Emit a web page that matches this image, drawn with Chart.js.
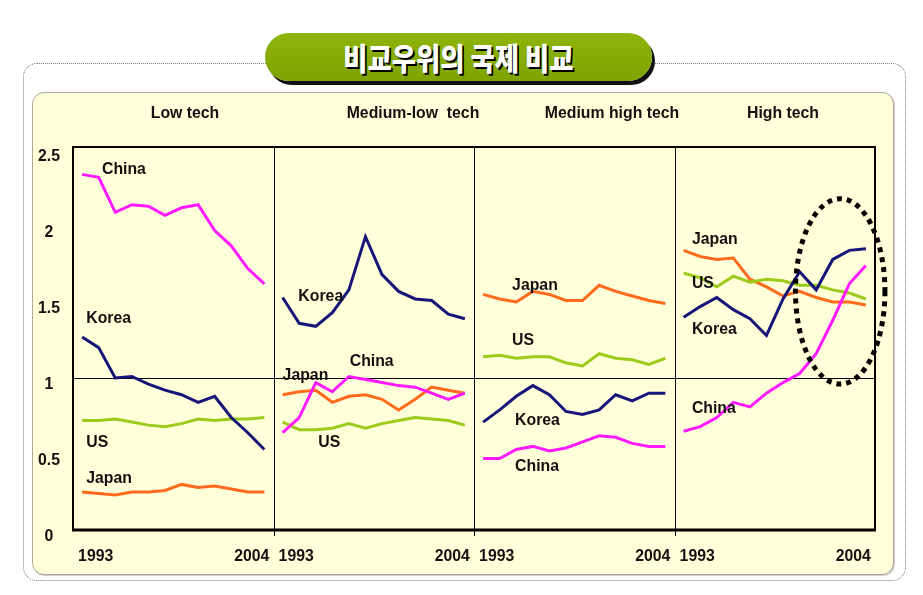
<!DOCTYPE html>
<html>
<head>
<meta charset="utf-8">
<script src="https://cdn.jsdelivr.net/npm/chart.js@4.4.0/dist/chart.umd.min.js"></script>
<style>
  body { margin: 0; background: #fff; width: 923px; height: 595px; overflow: hidden; }
  #outer { position: absolute; left: 23px; top: 63px; width: 881px; height: 516px;
           border: 1px dotted #777; border-radius: 14px; }
  #panel { position: absolute; left: 32px; top: 92px; width: 860px; height: 481px;
           background: #ffffd9; border: 1.5px solid #a9a99c; border-radius: 12px;
           box-shadow: 1px 1px 1px #ccc; }
  #pill { position: absolute; left: 265px; top: 33px; width: 387px; height: 48px;
          background: linear-gradient(#8fb40a, #7fa300); border-radius: 24px;
          box-shadow: 3px 4px 0 #111; text-align: center; }
  #pill span { display: inline-block; color: #fff; font-family: "Noto Sans CJK KR", sans-serif;
               font-weight: 900; font-size: 31px; line-height: 48px; letter-spacing: 0;
               transform: scaleX(0.85); text-shadow: 2px 2px 0 #000; }
  #mycanvas { position: absolute; left: 0; top: 0; }
</style>
</head>
<body>
<div id="outer"></div>
<div id="panel"></div>
<div id="pill"><span>비교우위의 국제 비교</span></div>
<canvas id="mycanvas" width="923" height="595"></canvas>
<script>
//-------------------------
// data (1993 .. 2004, one value per year)
//-------------------------
var years = ['1993','1994','1995','1996','1997','1998','1999','2000','2001','2002','2003','2004'];
var panelTitles = ['Low tech', 'Medium-low  tech', 'Medium high tech', 'High tech'];
var countries = ['China', 'Korea', 'US', 'Japan'];
var yTicks = [0, 0.5, 1, 1.5, 2, 2.5];

// Low tech
var lowChina = [2.34, 2.32, 2.09, 2.14, 2.13, 2.07, 2.12, 2.14, 1.97, 1.87, 1.72, 1.62];
var lowKorea = [1.27, 1.20, 1.00, 1.01, 0.96, 0.92, 0.89, 0.84, 0.88, 0.74, 0.64, 0.53];
var lowUS    = [0.72, 0.72, 0.73, 0.71, 0.69, 0.68, 0.70, 0.73, 0.72, 0.73, 0.73, 0.74];
var lowJapan = [0.25, 0.24, 0.23, 0.25, 0.25, 0.26, 0.30, 0.28, 0.29, 0.27, 0.25, 0.25];

// Medium-low tech
var mlChina = [0.64, 0.74, 0.97, 0.91, 1.01, 0.99, 0.97, 0.95, 0.94, 0.90, 0.86, 0.90];
var mlKorea = [1.53, 1.36, 1.34, 1.43, 1.58, 1.93, 1.68, 1.57, 1.52, 1.51, 1.42, 1.39];
var mlUS    = [0.71, 0.66, 0.66, 0.67, 0.70, 0.67, 0.70, 0.72, 0.74, 0.73, 0.72, 0.69];
var mlJapan = [0.89, 0.91, 0.92, 0.84, 0.88, 0.89, 0.86, 0.79, 0.86, 0.94, 0.92, 0.90];

// Medium high tech
var mhChina = [0.47, 0.47, 0.53, 0.55, 0.52, 0.54, 0.58, 0.62, 0.61, 0.57, 0.55, 0.55];
var mhKorea = [0.71, 0.79, 0.88, 0.95, 0.89, 0.78, 0.76, 0.79, 0.89, 0.85, 0.90, 0.90];
var mhUS    = [1.14, 1.15, 1.13, 1.14, 1.14, 1.10, 1.08, 1.16, 1.13, 1.12, 1.09, 1.13];
var mhJapan = [1.55, 1.52, 1.50, 1.57, 1.55, 1.51, 1.51, 1.61, 1.57, 1.54, 1.51, 1.49];

// High tech
var hiChina = [0.65, 0.68, 0.74, 0.84, 0.81, 0.90, 0.97, 1.03, 1.16, 1.38, 1.62, 1.74];
var hiKorea = [1.40, 1.47, 1.53, 1.45, 1.39, 1.28, 1.52, 1.70, 1.58, 1.78, 1.84, 1.85];
var hiUS    = [1.69, 1.66, 1.60, 1.67, 1.63, 1.65, 1.64, 1.61, 1.61, 1.58, 1.56, 1.52];
var hiJapan = [1.84, 1.80, 1.78, 1.79, 1.65, 1.60, 1.54, 1.57, 1.53, 1.50, 1.50, 1.48];

//-------------------------
// chart setup
//-------------------------
var seriesByPanel = [
  [lowChina, lowKorea, lowUS, lowJapan],
  [mlChina, mlKorea, mlUS, mlJapan],
  [mhChina, mhKorea, mhUS, mhJapan],
  [hiChina, hiKorea, hiUS, hiJapan]
];
var colors = { China: '#ff1aff', Korea: '#15157a', US: '#9ccb1c', Japan: '#ff6a1c' };
var PANEL_W = 12.1;   // x units per panel (12 years + margins)
var EDGE = 0.55;      // gap between panel edge and first year

// series name labels placed in data coords: [panel, year index, value, text]
var nameLabels = [
  [0, 1.2, 2.37, 'China'], [0, 0.25, 1.39, 'Korea'], [0, 0.25, 0.58, 'US'], [0, 0.25, 0.34, 'Japan'],
  [1, 0.95, 1.54, 'Korea'], [1, 0.0, 1.02, 'Japan'], [1, 4.05, 1.11, 'China'], [1, 2.15, 0.58, 'US'],
  [2, 1.75, 1.61, 'Japan'], [2, 1.75, 1.25, 'US'], [2, 1.93, 0.72, 'Korea'], [2, 1.93, 0.42, 'China'],
  [3, 0.5, 1.91, 'Japan'], [3, 0.5, 1.62, 'US'], [3, 0.5, 1.32, 'Korea'], [3, 0.5, 0.80, 'China']
];
var titleCenters = [185, 413, 612, 783];

var datasets = [];
for (var p = 0; p < seriesByPanel.length; p++) {
  for (var c = 0; c < countries.length; c++) {
    datasets.push({
      label: countries[c],
      data: seriesByPanel[p][c].map(function(v, i) { return { x: p * PANEL_W + i, y: v }; }),
      borderColor: colors[countries[c]],
      borderWidth: 3,
      pointRadius: 0,
      tension: 0
    });
  }
}

var FONT = 'bold 17px "Liberation Sans", Arial, sans-serif';
var SQUEEZE = 0.93;   // the original text is a bit narrow

// draw text squeezed horizontally, align = left/center/right
function squeezedText(ctx, text, x, y, align) {
  var w = ctx.measureText(text).width * SQUEEZE;
  var left = align === 'center' ? x - w / 2 : (align === 'right' ? x - w : x);
  ctx.save();
  ctx.textAlign = 'left';
  ctx.translate(left, y);
  ctx.scale(SQUEEZE, 1);
  ctx.fillText(text, 0, 0);
  ctx.restore();
}

var panelDecor = {
  id: 'panelDecor',
  beforeDatasetsDraw: function(chart) {
    var ctx = chart.ctx, a = chart.chartArea, xs = chart.scales.x, ys = chart.scales.y;
    ctx.save();
    ctx.strokeStyle = '#000';
    ctx.lineWidth = 1;
    // reference line at 1
    var y1 = Math.round(ys.getPixelForValue(1)) + 0.5;
    ctx.beginPath(); ctx.moveTo(a.left, y1); ctx.lineTo(a.right, y1); ctx.stroke();
    // panel dividers
    for (var p = 1; p < 4; p++) {
      var px = Math.round(xs.getPixelForValue(p * PANEL_W - EDGE)) + 0.5;
      ctx.beginPath(); ctx.moveTo(px, a.top); ctx.lineTo(px, a.bottom + 6); ctx.stroke();
    }
    ctx.restore();
  },
  afterDatasetsDraw: function(chart) {
    var ctx = chart.ctx, a = chart.chartArea, xs = chart.scales.x, ys = chart.scales.y;
    ctx.save();
    // frame
    ctx.strokeStyle = '#000';
    ctx.lineWidth = 2;
    ctx.strokeRect(a.left, a.top, a.right - a.left, a.bottom - a.top);
    ctx.lineWidth = 3;
    ctx.beginPath(); ctx.moveTo(a.left - 1, a.bottom); ctx.lineTo(a.right + 1, a.bottom); ctx.stroke();

    ctx.fillStyle = '#111';
    ctx.font = FONT;
    ctx.textBaseline = 'middle';

    // y tick labels
    yTicks.forEach(function(t) {
      squeezedText(ctx, String(t), 49, ys.getPixelForValue(t) + 6, 'center');
    });

    // panel titles
    panelTitles.forEach(function(t, p) {
      squeezedText(ctx, t, titleCenters[p], 113, 'center');
    });

    // first / last year under each panel
    for (var p = 0; p < 4; p++) {
      squeezedText(ctx, years[0], xs.getPixelForValue(p * PANEL_W) - 4, 556, 'left');
      squeezedText(ctx, years[years.length - 1], xs.getPixelForValue(p * PANEL_W + years.length - 1) + 5, 556, 'right');
    }

    // series names
    nameLabels.forEach(function(l) {
      squeezedText(ctx, l[3], xs.getPixelForValue(l[0] * PANEL_W + l[1]), ys.getPixelForValue(l[2]), 'left');
    });

    // dotted ellipse around the high tech catch-up
    var cx = xs.getPixelForValue(3 * PANEL_W + 9.45), cy = ys.getPixelForValue(1.57);
    var rx = xs.getPixelForValue(2.7) - xs.getPixelForValue(0);
    var ry = ys.getPixelForValue(0) - ys.getPixelForValue(0.61);
    ctx.setLineDash([5, 5]);
    ctx.lineWidth = 5;
    ctx.strokeStyle = '#000';
    ctx.beginPath(); ctx.ellipse(cx, cy, rx, ry, 0, 0, Math.PI * 2); ctx.stroke();
    ctx.restore();
  }
};

var ctx = document.getElementById('mycanvas');
var chart = new Chart(ctx, {
  type: 'line',
  data: { datasets: datasets },
  options: {
    responsive: false,
    animation: false,
    devicePixelRatio: 1,
    layout: { padding: { left: 73, right: 48, top: 147, bottom: 65 } },
    plugins: { legend: { display: false }, tooltip: { enabled: false } },
    scales: {
      x: { type: 'linear', display: false, min: -EDGE, max: 4 * PANEL_W - EDGE },
      y: { display: false, min: 0, max: 2.52 }
    }
  },
  plugins: [panelDecor]
});
</script>
</body>
</html>
